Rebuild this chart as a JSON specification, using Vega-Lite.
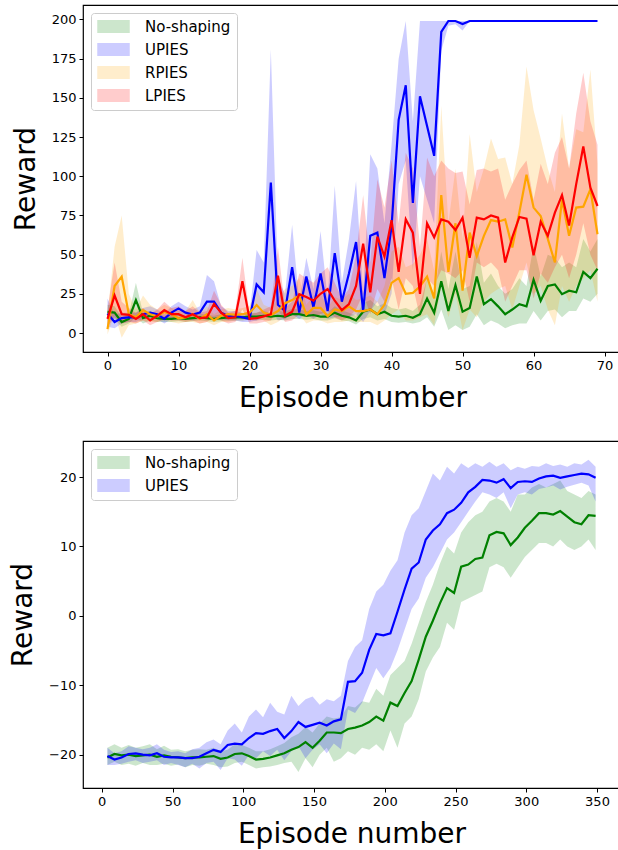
{
"$schema": "https://vega.github.io/schema/vega-lite/v6.json",
"padding": {"left": 8, "top": 4, "right": 0, "bottom": 0},
"spacing": 27,
"config": {
 "font": "DejaVu Sans",
 "view": {"stroke": "black", "strokeWidth": 1.2},
 "axis": {"domain": false, "grid": false, "tickColor": "black", "tickSize": 4, "tickWidth": 1, "labelFontSize": 13, "labelColor": "black", "labelPadding": 3, "titleFontSize": 28, "titleFontWeight": "normal", "titleColor": "black"},
 "axisY": {"titlePadding": 11},
 "axisX": {"titlePadding": 12},
 "legend": {"orient": "top-left", "offset": 8, "title": null, "fillColor": "white", "strokeColor": "#cccccc", "cornerRadius": 3, "padding": 6, "labelFontSize": 15, "labelColor": "black", "symbolType": "M-2.5,-1H2.5V1H-2.5Z", "symbolSize": 169, "symbolOffset": 9, "labelOffset": 24, "rowPadding": 7, "symbolOpacity": 0.2, "symbolStrokeWidth": 0}
},
"datasets": {
"top": [
{"s":"No-shaping","ep":0,"m":13.5,"lo":8,"hi":18},{"s":"No-shaping","ep":1,"m":13,"lo":9,"hi":17},{"s":"No-shaping","ep":2,"m":7,"lo":4,"hi":10},{"s":"No-shaping","ep":3,"m":9,"lo":6,"hi":12},{"s":"No-shaping","ep":4,"m":21,"lo":10,"hi":32},{"s":"No-shaping","ep":5,"m":9.5,"lo":6,"hi":13},{"s":"No-shaping","ep":6,"m":11,"lo":8,"hi":14},{"s":"No-shaping","ep":7,"m":9.5,"lo":7,"hi":12},{"s":"No-shaping","ep":8,"m":9,"lo":7,"hi":11},{"s":"No-shaping","ep":9,"m":9,"lo":7,"hi":11.5},
{"s":"No-shaping","ep":10,"m":9.5,"lo":7.5,"hi":12},{"s":"No-shaping","ep":11,"m":9,"lo":7,"hi":11},{"s":"No-shaping","ep":12,"m":9.5,"lo":7.5,"hi":12},{"s":"No-shaping","ep":13,"m":10,"lo":8,"hi":12.5},{"s":"No-shaping","ep":14,"m":9.5,"lo":7.5,"hi":11.5},{"s":"No-shaping","ep":15,"m":9,"lo":7,"hi":11},{"s":"No-shaping","ep":16,"m":9.5,"lo":7.5,"hi":12},{"s":"No-shaping","ep":17,"m":10,"lo":8,"hi":12},{"s":"No-shaping","ep":18,"m":10,"lo":8,"hi":12.5},{"s":"No-shaping","ep":19,"m":10,"lo":8,"hi":12},
{"s":"No-shaping","ep":20,"m":10.5,"lo":8.5,"hi":13},{"s":"No-shaping","ep":21,"m":10.5,"lo":8,"hi":13},{"s":"No-shaping","ep":22,"m":11,"lo":8.5,"hi":14},{"s":"No-shaping","ep":23,"m":10.5,"lo":8,"hi":13},{"s":"No-shaping","ep":24,"m":11,"lo":8.5,"hi":14},{"s":"No-shaping","ep":25,"m":10.5,"lo":8,"hi":13.5},{"s":"No-shaping","ep":26,"m":12,"lo":9,"hi":15.5},{"s":"No-shaping","ep":27,"m":12,"lo":9,"hi":15},{"s":"No-shaping","ep":28,"m":11,"lo":8.5,"hi":14},{"s":"No-shaping","ep":29,"m":11.5,"lo":9,"hi":14.5},
{"s":"No-shaping","ep":30,"m":10.5,"lo":8,"hi":13.5},{"s":"No-shaping","ep":31,"m":10.5,"lo":8,"hi":13},{"s":"No-shaping","ep":32,"m":13,"lo":9.5,"hi":17},{"s":"No-shaping","ep":33,"m":11,"lo":8,"hi":14.5},{"s":"No-shaping","ep":34,"m":10,"lo":7.5,"hi":13},{"s":"No-shaping","ep":35,"m":8,"lo":5.5,"hi":11},{"s":"No-shaping","ep":36,"m":13.6,"lo":9,"hi":19},{"s":"No-shaping","ep":37,"m":15,"lo":10,"hi":21},{"s":"No-shaping","ep":38,"m":12,"lo":8,"hi":17},{"s":"No-shaping","ep":39,"m":13.6,"lo":9,"hi":19},
{"s":"No-shaping","ep":40,"m":11,"lo":7,"hi":16},{"s":"No-shaping","ep":41,"m":10.5,"lo":6.5,"hi":15},{"s":"No-shaping","ep":42,"m":11,"lo":7,"hi":16},{"s":"No-shaping","ep":43,"m":9.7,"lo":6,"hi":14},{"s":"No-shaping","ep":44,"m":12,"lo":7,"hi":18},{"s":"No-shaping","ep":45,"m":22,"lo":10,"hi":35},{"s":"No-shaping","ep":46,"m":13,"lo":4,"hi":25},{"s":"No-shaping","ep":47,"m":33,"lo":15,"hi":52},{"s":"No-shaping","ep":48,"m":14,"lo":2,"hi":28},{"s":"No-shaping","ep":49,"m":30.5,"lo":5,"hi":52},
{"s":"No-shaping","ep":50,"m":13.6,"lo":2,"hi":28},{"s":"No-shaping","ep":51,"m":16,"lo":4,"hi":30},{"s":"No-shaping","ep":52,"m":36,"lo":12,"hi":58},{"s":"No-shaping","ep":53,"m":18.4,"lo":5,"hi":32},{"s":"No-shaping","ep":54,"m":21.6,"lo":8,"hi":38},{"s":"No-shaping","ep":55,"m":17,"lo":6,"hi":30},{"s":"No-shaping","ep":56,"m":12,"lo":3,"hi":25},{"s":"No-shaping","ep":57,"m":15,"lo":5,"hi":28},{"s":"No-shaping","ep":58,"m":18.4,"lo":6,"hi":35},{"s":"No-shaping","ep":59,"m":17,"lo":6,"hi":30},
{"s":"No-shaping","ep":60,"m":34,"lo":14,"hi":56},{"s":"No-shaping","ep":61,"m":20.6,"lo":8,"hi":36},{"s":"No-shaping","ep":62,"m":30,"lo":14,"hi":50},{"s":"No-shaping","ep":63,"m":31,"lo":15,"hi":48},{"s":"No-shaping","ep":64,"m":24.8,"lo":10,"hi":42},{"s":"No-shaping","ep":65,"m":27,"lo":14,"hi":45},{"s":"No-shaping","ep":66,"m":26,"lo":14,"hi":42},{"s":"No-shaping","ep":67,"m":39,"lo":22,"hi":60},{"s":"No-shaping","ep":68,"m":35,"lo":20,"hi":52},{"s":"No-shaping","ep":69,"m":41,"lo":25,"hi":60},
{"s":"UPIES","ep":0,"m":12.5,"lo":4,"hi":22},{"s":"UPIES","ep":1,"m":7,"lo":3,"hi":12},{"s":"UPIES","ep":2,"m":9.5,"lo":6,"hi":13},{"s":"UPIES","ep":3,"m":10,"lo":7,"hi":13},{"s":"UPIES","ep":4,"m":10,"lo":7,"hi":13},{"s":"UPIES","ep":5,"m":12,"lo":9,"hi":16},{"s":"UPIES","ep":6,"m":13,"lo":9,"hi":17},{"s":"UPIES","ep":7,"m":12,"lo":9,"hi":15},{"s":"UPIES","ep":8,"m":9,"lo":6,"hi":12},{"s":"UPIES","ep":9,"m":13,"lo":9,"hi":17},
{"s":"UPIES","ep":10,"m":15.7,"lo":11,"hi":20},{"s":"UPIES","ep":11,"m":13,"lo":9,"hi":17},{"s":"UPIES","ep":12,"m":11.7,"lo":8,"hi":15},{"s":"UPIES","ep":13,"m":13,"lo":9,"hi":17},{"s":"UPIES","ep":14,"m":20,"lo":9,"hi":37},{"s":"UPIES","ep":15,"m":20,"lo":9,"hi":33},{"s":"UPIES","ep":16,"m":13,"lo":9,"hi":17},{"s":"UPIES","ep":17,"m":11,"lo":8,"hi":14},{"s":"UPIES","ep":18,"m":11,"lo":8,"hi":14},{"s":"UPIES","ep":19,"m":10,"lo":7,"hi":13},
{"s":"UPIES","ep":20,"m":9,"lo":7,"hi":12},{"s":"UPIES","ep":21,"m":31,"lo":8,"hi":53},{"s":"UPIES","ep":22,"m":26,"lo":10,"hi":45},{"s":"UPIES","ep":23,"m":96,"lo":15,"hi":181},{"s":"UPIES","ep":24,"m":18,"lo":8,"hi":35},{"s":"UPIES","ep":25,"m":14,"lo":9,"hi":25},{"s":"UPIES","ep":26,"m":42,"lo":12,"hi":69},{"s":"UPIES","ep":27,"m":13,"lo":9,"hi":20},{"s":"UPIES","ep":28,"m":36,"lo":12,"hi":48},{"s":"UPIES","ep":29,"m":16.5,"lo":9,"hi":28},
{"s":"UPIES","ep":30,"m":38,"lo":12,"hi":65},{"s":"UPIES","ep":31,"m":14,"lo":9,"hi":22},{"s":"UPIES","ep":32,"m":51,"lo":10,"hi":94},{"s":"UPIES","ep":33,"m":20,"lo":10,"hi":32},{"s":"UPIES","ep":34,"m":38,"lo":10,"hi":60},{"s":"UPIES","ep":35,"m":58,"lo":12,"hi":97},{"s":"UPIES","ep":36,"m":14,"lo":7,"hi":25},{"s":"UPIES","ep":37,"m":62,"lo":14,"hi":114},{"s":"UPIES","ep":38,"m":64,"lo":20,"hi":105},{"s":"UPIES","ep":39,"m":35,"lo":12,"hi":70},
{"s":"UPIES","ep":40,"m":68,"lo":25,"hi":120},{"s":"UPIES","ep":41,"m":136,"lo":95,"hi":175},{"s":"UPIES","ep":42,"m":158,"lo":110,"hi":199},{"s":"UPIES","ep":43,"m":83,"lo":40,"hi":135},{"s":"UPIES","ep":44,"m":151,"lo":100,"hi":199},{"s":"UPIES","ep":45,"m":132,"lo":85,"hi":199},{"s":"UPIES","ep":46,"m":113,"lo":70,"hi":199},{"s":"UPIES","ep":47,"m":192,"lo":180,"hi":199},{"s":"UPIES","ep":48,"m":199,"lo":196,"hi":199},{"s":"UPIES","ep":49,"m":199,"lo":197,"hi":199},
{"s":"UPIES","ep":50,"m":197,"lo":193,"hi":199},{"s":"UPIES","ep":51,"m":199,"lo":199,"hi":199},{"s":"UPIES","ep":52,"m":199,"lo":199,"hi":199},{"s":"UPIES","ep":53,"m":199,"lo":199,"hi":199},{"s":"UPIES","ep":54,"m":199,"lo":199,"hi":199},{"s":"UPIES","ep":55,"m":199,"lo":199,"hi":199},{"s":"UPIES","ep":56,"m":199,"lo":199,"hi":199},{"s":"UPIES","ep":57,"m":199,"lo":199,"hi":199},{"s":"UPIES","ep":58,"m":199,"lo":199,"hi":199},{"s":"UPIES","ep":59,"m":199,"lo":199,"hi":199},
{"s":"UPIES","ep":60,"m":199,"lo":199,"hi":199},{"s":"UPIES","ep":61,"m":199,"lo":199,"hi":199},{"s":"UPIES","ep":62,"m":199,"lo":199,"hi":199},{"s":"UPIES","ep":63,"m":199,"lo":199,"hi":199},{"s":"UPIES","ep":64,"m":199,"lo":199,"hi":199},{"s":"UPIES","ep":65,"m":199,"lo":199,"hi":199},{"s":"UPIES","ep":66,"m":199,"lo":199,"hi":199},{"s":"UPIES","ep":67,"m":199,"lo":199,"hi":199},{"s":"UPIES","ep":68,"m":199,"lo":199,"hi":199},{"s":"UPIES","ep":69,"m":199,"lo":199,"hi":199},
{"s":"RPIES","ep":0,"m":2.5,"lo":-1,"hi":12},{"s":"RPIES","ep":1,"m":30,"lo":12,"hi":55},{"s":"RPIES","ep":2,"m":36,"lo":-3,"hi":75},{"s":"RPIES","ep":3,"m":12,"lo":5,"hi":25},{"s":"RPIES","ep":4,"m":10,"lo":6,"hi":15},{"s":"RPIES","ep":5,"m":14.6,"lo":8,"hi":24},{"s":"RPIES","ep":6,"m":12,"lo":7,"hi":18},{"s":"RPIES","ep":7,"m":10.6,"lo":7,"hi":15},{"s":"RPIES","ep":8,"m":13.4,"lo":8,"hi":18},{"s":"RPIES","ep":9,"m":12,"lo":7,"hi":16},
{"s":"RPIES","ep":10,"m":9.4,"lo":6,"hi":14},{"s":"RPIES","ep":11,"m":10,"lo":7,"hi":14},{"s":"RPIES","ep":12,"m":12,"lo":7,"hi":21},{"s":"RPIES","ep":13,"m":9,"lo":6,"hi":13},{"s":"RPIES","ep":14,"m":12,"lo":7,"hi":17},{"s":"RPIES","ep":15,"m":8,"lo":5,"hi":12},{"s":"RPIES","ep":16,"m":11,"lo":7,"hi":15},{"s":"RPIES","ep":17,"m":12,"lo":7,"hi":16},{"s":"RPIES","ep":18,"m":11.6,"lo":8,"hi":15},{"s":"RPIES","ep":19,"m":12,"lo":8,"hi":16},
{"s":"RPIES","ep":20,"m":13,"lo":9,"hi":17},{"s":"RPIES","ep":21,"m":17.8,"lo":10,"hi":28},{"s":"RPIES","ep":22,"m":13,"lo":8,"hi":18},{"s":"RPIES","ep":23,"m":11.4,"lo":5,"hi":16},{"s":"RPIES","ep":24,"m":14,"lo":7,"hi":22},{"s":"RPIES","ep":25,"m":19,"lo":10,"hi":28},{"s":"RPIES","ep":26,"m":21,"lo":12,"hi":30},{"s":"RPIES","ep":27,"m":24,"lo":12,"hi":35},{"s":"RPIES","ep":28,"m":11.8,"lo":6,"hi":18},{"s":"RPIES","ep":29,"m":16,"lo":8,"hi":24},
{"s":"RPIES","ep":30,"m":16,"lo":8,"hi":25},{"s":"RPIES","ep":31,"m":10.8,"lo":6,"hi":16},{"s":"RPIES","ep":32,"m":15,"lo":7,"hi":23},{"s":"RPIES","ep":33,"m":14,"lo":7,"hi":21},{"s":"RPIES","ep":34,"m":17,"lo":8,"hi":25},{"s":"RPIES","ep":35,"m":14,"lo":7,"hi":21},{"s":"RPIES","ep":36,"m":14,"lo":7,"hi":22},{"s":"RPIES","ep":37,"m":15,"lo":7,"hi":24},{"s":"RPIES","ep":38,"m":12,"lo":5,"hi":20},{"s":"RPIES","ep":39,"m":18,"lo":8,"hi":30},
{"s":"RPIES","ep":40,"m":32,"lo":12,"hi":52},{"s":"RPIES","ep":41,"m":35,"lo":15,"hi":55},{"s":"RPIES","ep":42,"m":25,"lo":8,"hi":42},{"s":"RPIES","ep":43,"m":25.6,"lo":8,"hi":44},{"s":"RPIES","ep":44,"m":29.7,"lo":10,"hi":50},{"s":"RPIES","ep":45,"m":36,"lo":12,"hi":60},{"s":"RPIES","ep":46,"m":22,"lo":5,"hi":40},{"s":"RPIES","ep":47,"m":88,"lo":30,"hi":145},{"s":"RPIES","ep":48,"m":39,"lo":10,"hi":70},{"s":"RPIES","ep":49,"m":70,"lo":25,"hi":105},
{"s":"RPIES","ep":50,"m":27,"lo":2,"hi":60},{"s":"RPIES","ep":51,"m":64,"lo":15,"hi":127},{"s":"RPIES","ep":52,"m":49,"lo":10,"hi":90},{"s":"RPIES","ep":53,"m":62,"lo":20,"hi":105},{"s":"RPIES","ep":54,"m":72,"lo":25,"hi":124},{"s":"RPIES","ep":55,"m":71,"lo":28,"hi":111},{"s":"RPIES","ep":56,"m":72.5,"lo":30,"hi":112},{"s":"RPIES","ep":57,"m":54.5,"lo":15,"hi":95},{"s":"RPIES","ep":58,"m":77,"lo":30,"hi":120},{"s":"RPIES","ep":59,"m":101,"lo":45,"hi":170},
{"s":"RPIES","ep":60,"m":80,"lo":25,"hi":142},{"s":"RPIES","ep":61,"m":74.6,"lo":30,"hi":124},{"s":"RPIES","ep":62,"m":60,"lo":15,"hi":105},{"s":"RPIES","ep":63,"m":45,"lo":5,"hi":90},{"s":"RPIES","ep":64,"m":85,"lo":30,"hi":140},{"s":"RPIES","ep":65,"m":62,"lo":20,"hi":105},{"s":"RPIES","ep":66,"m":80,"lo":30,"hi":130},{"s":"RPIES","ep":67,"m":80.6,"lo":35,"hi":128},{"s":"RPIES","ep":68,"m":91.6,"lo":40,"hi":168},{"s":"RPIES","ep":69,"m":63,"lo":20,"hi":108},
{"s":"LPIES","ep":0,"m":9,"lo":4,"hi":15},{"s":"LPIES","ep":1,"m":24,"lo":10,"hi":45},{"s":"LPIES","ep":2,"m":12,"lo":6,"hi":20},{"s":"LPIES","ep":3,"m":11.6,"lo":7,"hi":16},{"s":"LPIES","ep":4,"m":9,"lo":6,"hi":13},{"s":"LPIES","ep":5,"m":12,"lo":8,"hi":16},{"s":"LPIES","ep":6,"m":8,"lo":5,"hi":12},{"s":"LPIES","ep":7,"m":11,"lo":7,"hi":15},{"s":"LPIES","ep":8,"m":14.6,"lo":9,"hi":20},{"s":"LPIES","ep":9,"m":12,"lo":8,"hi":16},
{"s":"LPIES","ep":10,"m":12,"lo":8,"hi":17},{"s":"LPIES","ep":11,"m":10,"lo":7,"hi":14},{"s":"LPIES","ep":12,"m":12,"lo":8,"hi":17},{"s":"LPIES","ep":13,"m":9.5,"lo":6,"hi":13},{"s":"LPIES","ep":14,"m":10,"lo":7,"hi":14},{"s":"LPIES","ep":15,"m":18.5,"lo":10,"hi":27},{"s":"LPIES","ep":16,"m":13,"lo":8,"hi":18},{"s":"LPIES","ep":17,"m":9.5,"lo":6,"hi":13},{"s":"LPIES","ep":18,"m":10,"lo":7,"hi":14},{"s":"LPIES","ep":19,"m":33,"lo":15,"hi":48},
{"s":"LPIES","ep":20,"m":9,"lo":6,"hi":12},{"s":"LPIES","ep":21,"m":9.5,"lo":6,"hi":13},{"s":"LPIES","ep":22,"m":10.6,"lo":7,"hi":15},{"s":"LPIES","ep":23,"m":12,"lo":8,"hi":17},{"s":"LPIES","ep":24,"m":36.5,"lo":15,"hi":55},{"s":"LPIES","ep":25,"m":11,"lo":7,"hi":16},{"s":"LPIES","ep":26,"m":13.6,"lo":8,"hi":20},{"s":"LPIES","ep":27,"m":24.8,"lo":12,"hi":38},{"s":"LPIES","ep":28,"m":23,"lo":12,"hi":35},{"s":"LPIES","ep":29,"m":20.6,"lo":10,"hi":32},
{"s":"LPIES","ep":30,"m":25,"lo":12,"hi":38},{"s":"LPIES","ep":31,"m":28,"lo":14,"hi":42},{"s":"LPIES","ep":32,"m":20.6,"lo":10,"hi":32},{"s":"LPIES","ep":33,"m":14.6,"lo":8,"hi":22},{"s":"LPIES","ep":34,"m":18.4,"lo":10,"hi":28},{"s":"LPIES","ep":35,"m":30,"lo":15,"hi":50},{"s":"LPIES","ep":36,"m":57,"lo":25,"hi":88},{"s":"LPIES","ep":37,"m":26,"lo":12,"hi":45},{"s":"LPIES","ep":38,"m":61.5,"lo":28,"hi":98},{"s":"LPIES","ep":39,"m":48.8,"lo":20,"hi":80},
{"s":"LPIES","ep":40,"m":72,"lo":35,"hi":110},{"s":"LPIES","ep":41,"m":39,"lo":15,"hi":70},{"s":"LPIES","ep":42,"m":72.5,"lo":35,"hi":115},{"s":"LPIES","ep":43,"m":64,"lo":30,"hi":105},{"s":"LPIES","ep":44,"m":25,"lo":10,"hi":55},{"s":"LPIES","ep":45,"m":70,"lo":35,"hi":112},{"s":"LPIES","ep":46,"m":61,"lo":30,"hi":100},{"s":"LPIES","ep":47,"m":72.5,"lo":40,"hi":110},{"s":"LPIES","ep":48,"m":71,"lo":38,"hi":105},{"s":"LPIES","ep":49,"m":65.7,"lo":35,"hi":102},
{"s":"LPIES","ep":50,"m":73.6,"lo":40,"hi":103},{"s":"LPIES","ep":51,"m":48,"lo":20,"hi":82},{"s":"LPIES","ep":52,"m":73.6,"lo":45,"hi":104},{"s":"LPIES","ep":53,"m":72.5,"lo":42,"hi":105},{"s":"LPIES","ep":54,"m":75,"lo":45,"hi":103},{"s":"LPIES","ep":55,"m":73.6,"lo":40,"hi":105},{"s":"LPIES","ep":56,"m":45,"lo":20,"hi":85},{"s":"LPIES","ep":57,"m":61,"lo":30,"hi":95},{"s":"LPIES","ep":58,"m":74,"lo":40,"hi":104},{"s":"LPIES","ep":59,"m":73,"lo":40,"hi":110},
{"s":"LPIES","ep":60,"m":49.6,"lo":22,"hi":85},{"s":"LPIES","ep":61,"m":71,"lo":38,"hi":108},{"s":"LPIES","ep":62,"m":62,"lo":32,"hi":95},{"s":"LPIES","ep":63,"m":76.8,"lo":42,"hi":115},{"s":"LPIES","ep":64,"m":88,"lo":50,"hi":125},{"s":"LPIES","ep":65,"m":68.6,"lo":35,"hi":105},{"s":"LPIES","ep":66,"m":95,"lo":50,"hi":140},{"s":"LPIES","ep":67,"m":119,"lo":70,"hi":166},{"s":"LPIES","ep":68,"m":92.7,"lo":50,"hi":135},{"s":"LPIES","ep":69,"m":81,"lo":40,"hi":120}
],
"bot": [
{"s":"No-shaping","ep":4,"m":-20.4,"lo":-21.5,"hi":-19},{"s":"No-shaping","ep":9,"m":-19.9,"lo":-21,"hi":-18.5},{"s":"No-shaping","ep":14,"m":-20.1,"lo":-21.5,"hi":-19},{"s":"No-shaping","ep":19,"m":-20,"lo":-21.3,"hi":-18.6},{"s":"No-shaping","ep":24,"m":-20.2,"lo":-21.6,"hi":-19},{"s":"No-shaping","ep":29,"m":-20.1,"lo":-21.2,"hi":-18.8},{"s":"No-shaping","ep":34,"m":-20,"lo":-21.5,"hi":-18.5},{"s":"No-shaping","ep":39,"m":-20.3,"lo":-21.5,"hi":-19.2},{"s":"No-shaping","ep":44,"m":-20.1,"lo":-21.3,"hi":-18.7},{"s":"No-shaping","ep":49,"m":-20.3,"lo":-21.6,"hi":-19.3},
{"s":"No-shaping","ep":54,"m":-20.4,"lo":-21.4,"hi":-19.2},{"s":"No-shaping","ep":59,"m":-20.5,"lo":-21.8,"hi":-19.5},{"s":"No-shaping","ep":64,"m":-20.4,"lo":-21.5,"hi":-19.3},{"s":"No-shaping","ep":69,"m":-20.4,"lo":-21.6,"hi":-19.2},{"s":"No-shaping","ep":74,"m":-20.3,"lo":-21.3,"hi":-19.3},{"s":"No-shaping","ep":79,"m":-20.2,"lo":-21.5,"hi":-19},{"s":"No-shaping","ep":84,"m":-20.6,"lo":-21.8,"hi":-19.5},{"s":"No-shaping","ep":89,"m":-20.4,"lo":-21.7,"hi":-19.3},{"s":"No-shaping","ep":94,"m":-19.9,"lo":-21.2,"hi":-18.5},{"s":"No-shaping","ep":99,"m":-19.8,"lo":-21,"hi":-18.6},
{"s":"No-shaping","ep":104,"m":-20.2,"lo":-21.5,"hi":-19},{"s":"No-shaping","ep":109,"m":-20.7,"lo":-22,"hi":-19.5},{"s":"No-shaping","ep":114,"m":-20.6,"lo":-21.8,"hi":-19.5},{"s":"No-shaping","ep":119,"m":-20.4,"lo":-21.7,"hi":-19.2},{"s":"No-shaping","ep":124,"m":-20.1,"lo":-21.5,"hi":-18.8},{"s":"No-shaping","ep":129,"m":-19.8,"lo":-21.2,"hi":-18.3},{"s":"No-shaping","ep":134,"m":-19.3,"lo":-21,"hi":-17.5},{"s":"No-shaping","ep":139,"m":-18.9,"lo":-22.5,"hi":-17},{"s":"No-shaping","ep":144,"m":-18.2,"lo":-20.5,"hi":-16},{"s":"No-shaping","ep":149,"m":-19,"lo":-21.8,"hi":-16.8},
{"s":"No-shaping","ep":154,"m":-18,"lo":-20,"hi":-15.5},{"s":"No-shaping","ep":159,"m":-16.8,"lo":-19,"hi":-14.5},{"s":"No-shaping","ep":164,"m":-16.8,"lo":-21,"hi":-14.8},{"s":"No-shaping","ep":169,"m":-16.9,"lo":-20.5,"hi":-14.6},{"s":"No-shaping","ep":174,"m":-16.3,"lo":-19.5,"hi":-13},{"s":"No-shaping","ep":179,"m":-16.1,"lo":-20,"hi":-13.2},{"s":"No-shaping","ep":184,"m":-15.8,"lo":-19,"hi":-12.3},{"s":"No-shaping","ep":189,"m":-15.3,"lo":-19.3,"hi":-12.5},{"s":"No-shaping","ep":194,"m":-14.5,"lo":-18.5,"hi":-10.5},{"s":"No-shaping","ep":199,"m":-15.1,"lo":-19.5,"hi":-11.5},
{"s":"No-shaping","ep":204,"m":-12.5,"lo":-16.5,"hi":-8.5},{"s":"No-shaping","ep":209,"m":-13,"lo":-19,"hi":-7.5},{"s":"No-shaping","ep":214,"m":-11.1,"lo":-15.5,"hi":-6.5},{"s":"No-shaping","ep":219,"m":-9.4,"lo":-14.5,"hi":-4},{"s":"No-shaping","ep":224,"m":-6.3,"lo":-12,"hi":-1},{"s":"No-shaping","ep":229,"m":-3,"lo":-8,"hi":2},{"s":"No-shaping","ep":234,"m":-0.7,"lo":-6,"hi":4.5},{"s":"No-shaping","ep":239,"m":1.8,"lo":-4.5,"hi":7.5},{"s":"No-shaping","ep":244,"m":4,"lo":-1,"hi":10},{"s":"No-shaping","ep":249,"m":3.3,"lo":-2,"hi":9},
{"s":"No-shaping","ep":254,"m":7.1,"lo":2,"hi":12},{"s":"No-shaping","ep":259,"m":7.4,"lo":2.5,"hi":13.5},{"s":"No-shaping","ep":264,"m":8.2,"lo":3,"hi":14.5},{"s":"No-shaping","ep":269,"m":8.4,"lo":3.5,"hi":15},{"s":"No-shaping","ep":274,"m":11.6,"lo":7,"hi":16.5},{"s":"No-shaping","ep":279,"m":12.1,"lo":7.5,"hi":17},{"s":"No-shaping","ep":284,"m":11.9,"lo":7,"hi":16.5},{"s":"No-shaping","ep":289,"m":10.2,"lo":5.5,"hi":15},{"s":"No-shaping","ep":294,"m":11.3,"lo":7,"hi":17.5},{"s":"No-shaping","ep":299,"m":12.7,"lo":8.5,"hi":17.5},
{"s":"No-shaping","ep":304,"m":13.7,"lo":9.5,"hi":18.5},{"s":"No-shaping","ep":309,"m":14.8,"lo":10.5,"hi":19},{"s":"No-shaping","ep":314,"m":14.8,"lo":10.5,"hi":18.5},{"s":"No-shaping","ep":319,"m":14.6,"lo":10,"hi":19},{"s":"No-shaping","ep":324,"m":15.1,"lo":11,"hi":19.5},{"s":"No-shaping","ep":329,"m":14.3,"lo":10,"hi":18},{"s":"No-shaping","ep":334,"m":13.5,"lo":9.5,"hi":17.5},{"s":"No-shaping","ep":339,"m":13.2,"lo":10,"hi":17},{"s":"No-shaping","ep":344,"m":14.5,"lo":11,"hi":18},{"s":"No-shaping","ep":349,"m":14.4,"lo":9.5,"hi":17.5},
{"s":"UPIES","ep":4,"m":-20.2,"lo":-21.5,"hi":-19},{"s":"UPIES","ep":9,"m":-20.7,"lo":-21.5,"hi":-19.8},{"s":"UPIES","ep":14,"m":-20.4,"lo":-21.3,"hi":-19.5},{"s":"UPIES","ep":19,"m":-19.9,"lo":-21,"hi":-18.8},{"s":"UPIES","ep":24,"m":-19.8,"lo":-20.8,"hi":-19},{"s":"UPIES","ep":29,"m":-20,"lo":-21.2,"hi":-19.2},{"s":"UPIES","ep":34,"m":-20.1,"lo":-21,"hi":-19},{"s":"UPIES","ep":39,"m":-19.8,"lo":-20.8,"hi":-18.5},{"s":"UPIES","ep":44,"m":-20.3,"lo":-21.5,"hi":-19.3},{"s":"UPIES","ep":49,"m":-20.4,"lo":-21.2,"hi":-19.6},
{"s":"UPIES","ep":54,"m":-20.4,"lo":-21.5,"hi":-19.5},{"s":"UPIES","ep":59,"m":-20.5,"lo":-21.8,"hi":-19.8},{"s":"UPIES","ep":64,"m":-20.5,"lo":-21.3,"hi":-19.2},{"s":"UPIES","ep":69,"m":-20.3,"lo":-22,"hi":-19},{"s":"UPIES","ep":74,"m":-19.8,"lo":-21.2,"hi":-18.2},{"s":"UPIES","ep":79,"m":-19.3,"lo":-21,"hi":-17.8},{"s":"UPIES","ep":84,"m":-19.6,"lo":-22.2,"hi":-18.5},{"s":"UPIES","ep":89,"m":-18.6,"lo":-20.5,"hi":-16.5},{"s":"UPIES","ep":94,"m":-18.4,"lo":-20.7,"hi":-15.5},{"s":"UPIES","ep":99,"m":-18.5,"lo":-21.6,"hi":-16.8},
{"s":"UPIES","ep":104,"m":-17.6,"lo":-20,"hi":-14.5},{"s":"UPIES","ep":109,"m":-16.9,"lo":-20.5,"hi":-13.5},{"s":"UPIES","ep":114,"m":-17,"lo":-19.5,"hi":-14.6},{"s":"UPIES","ep":119,"m":-16.6,"lo":-20.2,"hi":-12.5},{"s":"UPIES","ep":124,"m":-16.3,"lo":-19.3,"hi":-13.8},{"s":"UPIES","ep":129,"m":-17.6,"lo":-20.8,"hi":-14.2},{"s":"UPIES","ep":134,"m":-16.6,"lo":-19.5,"hi":-11.5},{"s":"UPIES","ep":139,"m":-15.3,"lo":-18.8,"hi":-13},{"s":"UPIES","ep":144,"m":-16,"lo":-20.5,"hi":-12},{"s":"UPIES","ep":149,"m":-15.7,"lo":-19.3,"hi":-11.6},
{"s":"UPIES","ep":154,"m":-15.4,"lo":-18.5,"hi":-12.8},{"s":"UPIES","ep":159,"m":-15.8,"lo":-19.8,"hi":-12},{"s":"UPIES","ep":164,"m":-15.2,"lo":-18.4,"hi":-12.3},{"s":"UPIES","ep":169,"m":-14.9,"lo":-19.2,"hi":-11.5},{"s":"UPIES","ep":174,"m":-9.5,"lo":-13.5,"hi":-6.5},{"s":"UPIES","ep":179,"m":-9.4,"lo":-14,"hi":-4.5},{"s":"UPIES","ep":184,"m":-8.2,"lo":-12.5,"hi":-3.5},{"s":"UPIES","ep":189,"m":-4.9,"lo":-10,"hi":1},{"s":"UPIES","ep":194,"m":-2.6,"lo":-7.5,"hi":3.5},{"s":"UPIES","ep":199,"m":-2.8,"lo":-9,"hi":4.5},
{"s":"UPIES","ep":204,"m":-2.5,"lo":-7.5,"hi":6.5},{"s":"UPIES","ep":209,"m":0.6,"lo":-5,"hi":8},{"s":"UPIES","ep":214,"m":3.8,"lo":-2,"hi":12},{"s":"UPIES","ep":219,"m":6.8,"lo":1,"hi":14.5},{"s":"UPIES","ep":224,"m":7.7,"lo":2.5,"hi":15.5},{"s":"UPIES","ep":229,"m":11,"lo":5.5,"hi":18},{"s":"UPIES","ep":234,"m":12.3,"lo":7,"hi":20.5},{"s":"UPIES","ep":239,"m":13.2,"lo":9,"hi":19.5},{"s":"UPIES","ep":244,"m":14.8,"lo":11,"hi":21.5},{"s":"UPIES","ep":249,"m":15.3,"lo":12,"hi":20.5},
{"s":"UPIES","ep":254,"m":16.3,"lo":13.5,"hi":22},{"s":"UPIES","ep":259,"m":17.8,"lo":15,"hi":21.3},{"s":"UPIES","ep":264,"m":18.6,"lo":16.5,"hi":22},{"s":"UPIES","ep":269,"m":19.6,"lo":17.8,"hi":21.5},{"s":"UPIES","ep":274,"m":19.5,"lo":17.5,"hi":22.2},{"s":"UPIES","ep":279,"m":19.2,"lo":17,"hi":21.5},{"s":"UPIES","ep":284,"m":19.7,"lo":17.8,"hi":22},{"s":"UPIES","ep":289,"m":18.4,"lo":15.5,"hi":21},{"s":"UPIES","ep":294,"m":19.3,"lo":17.5,"hi":21.5},{"s":"UPIES","ep":299,"m":19.4,"lo":17.8,"hi":21.2},
{"s":"UPIES","ep":304,"m":19.3,"lo":17.5,"hi":21.6},{"s":"UPIES","ep":309,"m":19.8,"lo":18.3,"hi":21.5},{"s":"UPIES","ep":314,"m":20.1,"lo":18.5,"hi":22},{"s":"UPIES","ep":319,"m":20.2,"lo":18.8,"hi":21.6},{"s":"UPIES","ep":324,"m":19.9,"lo":18.2,"hi":21.8},{"s":"UPIES","ep":329,"m":20.1,"lo":18.6,"hi":21.5},{"s":"UPIES","ep":334,"m":20.3,"lo":18.9,"hi":22},{"s":"UPIES","ep":339,"m":20.5,"lo":19.2,"hi":21.8},{"s":"UPIES","ep":344,"m":20.4,"lo":18.8,"hi":22.5},{"s":"UPIES","ep":349,"m":19.9,"lo":16.5,"hi":21.5}
]
},
"vconcat": [
{
 "width": 539, "height": 347,
 "data": {"name": "top"},
 "layer": [
  {"mark": {"type": "area", "opacity": 0.2},
   "encoding": {
    "x": {"field": "ep", "type": "quantitative", "scale": {"domain": [-3.45, 72.45], "nice": false, "zero": false}, "axis": {"values": [0,10,20,30,40,50,60,70], "title": "Episode number"}},
    "y": {"field": "lo", "type": "quantitative", "scale": {"domain": [-12.1, 209.2], "nice": false, "zero": false}, "axis": {"values": [0,25,50,75,100,125,150,175,200], "title": "Reward"}},
    "y2": {"field": "hi"},
    "fill": {"field": "s", "type": "nominal", "scale": {"domain": ["No-shaping","UPIES","RPIES","LPIES"], "range": ["green","blue","orange","red"]}, "legend": {}}
   }},
  {"mark": {"type": "line", "strokeWidth": 2.2},
   "encoding": {
    "x": {"field": "ep", "type": "quantitative"},
    "y": {"field": "m", "type": "quantitative"},
    "stroke": {"field": "s", "type": "nominal", "scale": {"domain": ["No-shaping","UPIES","RPIES","LPIES"], "range": ["green","blue","orange","red"]}, "legend": null}
   }}
 ]
},
{
 "width": 537, "height": 347,
 "data": {"name": "bot"},
 "layer": [
  {"mark": {"type": "area", "opacity": 0.2},
   "encoding": {
    "x": {"field": "ep", "type": "quantitative", "scale": {"domain": [-13.25, 366.25], "nice": false, "zero": false}, "axis": {"values": [0,50,100,150,200,250,300,350], "title": "Episode number"}},
    "y": {"field": "lo", "type": "quantitative", "scale": {"domain": [-24.8, 25.2], "nice": false, "zero": false}, "axis": {"values": [-20,-10,0,10,20], "title": "Reward"}},
    "y2": {"field": "hi"},
    "fill": {"field": "s", "type": "nominal", "scale": {"domain": ["No-shaping","UPIES"], "range": ["green","blue"]}, "legend": {}}
   }},
  {"mark": {"type": "line", "strokeWidth": 2.2},
   "encoding": {
    "x": {"field": "ep", "type": "quantitative"},
    "y": {"field": "m", "type": "quantitative"},
    "stroke": {"field": "s", "type": "nominal", "scale": {"domain": ["No-shaping","UPIES"], "range": ["green","blue"]}, "legend": null}
   }}
 ],
 "resolve": {"scale": {"fill": "independent", "stroke": "independent"}}
}
],
"resolve": {"scale": {"fill": "independent", "stroke": "independent"}, "legend": {"fill": "independent"}}
}
